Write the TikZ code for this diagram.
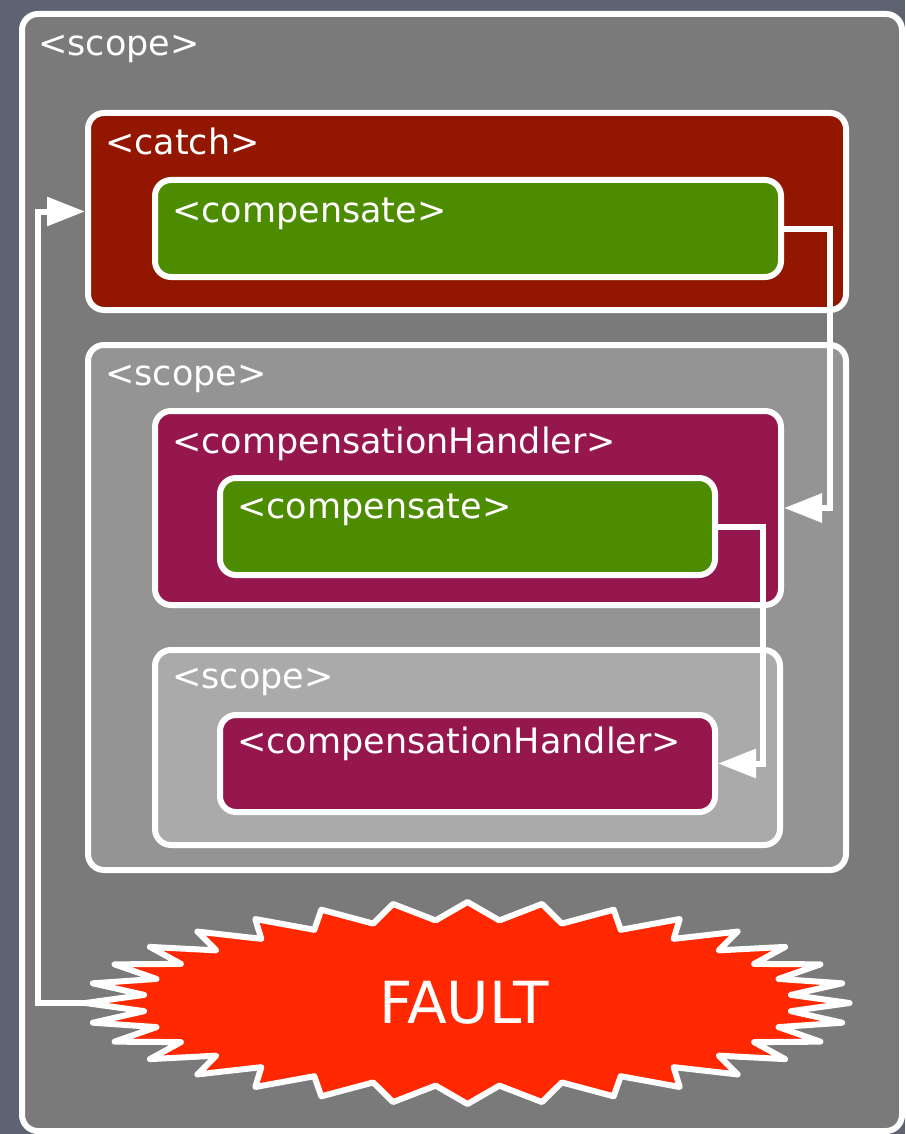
\documentclass[tikz,border=0pt]{standalone}
\usepackage{fontspec}
\setmainfont{DejaVu Sans}
\usetikzlibrary{arrows.meta}
\definecolor{bgcol}{RGB}{93,99,113}
\definecolor{scopeA}{RGB}{122,122,122}
\definecolor{scopeB}{RGB}{148,148,148}
\definecolor{scopeC}{RGB}{170,170,170}
\definecolor{catchcol}{RGB}{147,22,0}
\definecolor{compcol}{RGB}{77,140,0}
\definecolor{handlercol}{RGB}{150,23,77}
\definecolor{faultcol}{RGB}{255,40,0}
\begin{document}
\begin{tikzpicture}[x=1pt,y=-1pt,
  box/.style={draw=white, line width=6pt, rounded corners=16pt, inner sep=0pt, rectangle},
  lbl/.style={text=white, inner sep=0pt, font=\fontsize{35}{42}\selectfont, anchor=base west},
  conn/.style={draw=white, line width=6pt, -{Triangle[length=38pt,width=28pt]}},
  burst/.style={draw=white, line width=6pt, line join=round, fill=faultcol}]
\useasboundingbox (0,0) rectangle (905,1134);
\fill[bgcol] (0,0) rectangle (905,1134);
% boxes
\node[box, fill=scopeA, minimum width=880pt, minimum height=1117pt] (outer) at (462,572.5) {};
\node[box, fill=catchcol, minimum width=758pt, minimum height=197pt] (catch) at (467,211.5) {};
\node[box, fill=compcol, minimum width=626pt, minimum height=97pt] (comp1) at (468,228.5) {};
\node[box, fill=scopeB, minimum width=758pt, minimum height=525pt] (scope2) at (467,607.5) {};
\node[box, fill=handlercol, minimum width=626pt, minimum height=194pt] (handler1) at (468,508) {};
\node[box, fill=compcol, minimum width=495pt, minimum height=97pt] (comp2) at (467.5,526.5) {};
\node[box, fill=scopeC, minimum width=625pt, minimum height=195pt] (scope3) at (467.5,747.5) {};
\node[box, fill=handlercol, minimum width=495pt, minimum height=97pt] (handler2) at (467.5,763.5) {};
% starburst
\draw[burst] plot[variable=\k, samples at={0,...,63}]
  ({467.5+(353.5+28.5*cos(\k*180))*cos(\k*5.625)}, {1003-(92+9*cos(\k*180))*sin(\k*5.625)}) -- cycle;
\coordinate (faulttip) at (85,1003);
\node[text=white, inner sep=0pt, font=\fontsize{58}{64}\selectfont] (fault) at (464,1003) {FAULT};
% connectors
\coordinate (c1) at (830,0);
\coordinate (c2) at (763,0);
\coordinate (c3) at (38,0);
\draw[conn] (comp1.east) -| (c1 |- handler1.east) -- (handler1.east);
\draw[conn] (comp2.east) -| (c2 |- handler2.east) -- (handler2.east);
\draw[conn] (faulttip) -| (c3 |- catch.west) -- (catch.west);
% labels
\node[lbl] (l1) at (38,56) {<scope>};
\node[lbl] (l2) at (105,155) {<catch>};
\node[lbl] (l3) at (172,222) {<compensate>};
\node[lbl] (l4) at (105,385) {<scope>};
\node[lbl] (l5) at (172,453) {<compensationHandler>};
\node[lbl] (l6) at (237,518) {<compensate>};
\node[lbl] (l7) at (172,688) {<scope>};
\node[lbl] (l8) at (237,753) {<compensationHandler>};
\end{tikzpicture}
\end{document}
